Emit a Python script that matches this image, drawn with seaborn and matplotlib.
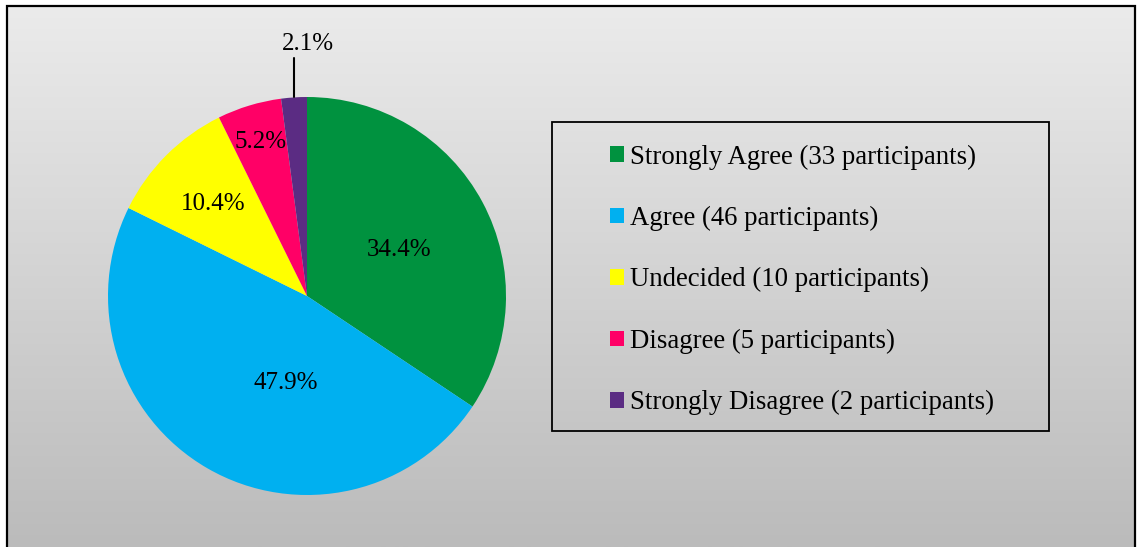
import numpy as np
import matplotlib
matplotlib.use("Agg")
import matplotlib.pyplot as plt
import seaborn as sns
from matplotlib.patches import Rectangle, Patch
from matplotlib.colors import LinearSegmentedColormap

# ---- data ----
categories = ["Strongly Agree", "Agree", "Undecided", "Disagree", "Strongly Disagree"]
participants = [33, 46, 10, 5, 2]
colors = ["#00923F", "#00B0F0", "#FFFF00", "#FF0066", "#5B2C83"]

sns.set_theme(style="white")
plt.rcParams["font.family"] = ["Liberation Serif", "DejaVu Serif"]
plt.rcParams["text.color"] = "black"

W, H = 1137, 547
fig = plt.figure(figsize=(W / 100, H / 100), dpi=100)
fig.patch.set_facecolor("white")

# background gradient inside the frame
fx0, fy_top, fx1 = 6.5, 6.0, 1135.0
bg = fig.add_axes([fx0 / W, 0, (fx1 - fx0) / W, (H - fy_top) / H])
grad = np.linspace(0, 1, 256).reshape(-1, 1)
cmap = LinearSegmentedColormap.from_list("g", ["#ebebeb", "#bbbbbb"])
bg.imshow(grad, aspect="auto", cmap=cmap, extent=[0, 1, 0, 1], origin="upper")
bg.set_axis_off()

# frame
fig.patches.append(Rectangle((fx0 / W, -0.05), (fx1 - fx0) / W, (H - fy_top) / H + 0.05,
                             transform=fig.transFigure, fill=False,
                             edgecolor="black", linewidth=1.6, zorder=5))

# pie axes
cx, cy, r = 307, 296, 199
ax = fig.add_axes([(cx - r) / W, (H - cy - r) / H, 2 * r / W, 2 * r / H])
ax.set_axis_off()
total = sum(participants)
wedges, _ = ax.pie(participants, colors=sns.color_palette(colors), startangle=90,
                   counterclock=False, radius=1.0,
                   wedgeprops=dict(linewidth=0))
ax.set_xlim(-1, 1)
ax.set_ylim(-1, 1)
ax.set_aspect("equal")

# label anchor positions (layout, data coords of the pie axes, baseline centre)
label_pos = [(0.465, 0.201), (-0.108, -0.467), (-0.470, 0.432), (-0.234, 0.744), (0.003, 1.236)]
fs = 18
for v, (lx, ly) in zip(participants, label_pos):
    ax.text(lx, ly, f"{100 * v / total:.1f}%", ha="center", va="baseline",
            fontsize=fs, color="black", clip_on=False)

# leader line for the smallest slice
w = wedges[-1]
mid = np.deg2rad((w.theta1 + w.theta2) / 2)
lx = np.cos(mid)
ax.plot([lx, lx], [np.sin(mid), 1.196], color="black", lw=1.5, clip_on=False)

# legend
lfs = 19.3
handles = [Patch(facecolor=c, edgecolor="none") for c in colors]
labels = [f"{c} ({v} participants)" for c, v in zip(categories, participants)]
leg = fig.legend(handles, labels, loc="upper left",
                 bbox_to_anchor=(597 / W, 1 - 131 / H), frameon=False,
                 fontsize=lfs, labelcolor="black", handlelength=0.52, handleheight=0.52,
                 handletextpad=0.22, labelspacing=1.355, borderpad=0)
# legend box
lx0, ly0, lx1, ly1 = 552, 122, 1048.5, 431
fig.patches.append(Rectangle((lx0 / W, 1 - ly1 / H), (lx1 - lx0) / W, (ly1 - ly0) / H,
                             transform=fig.transFigure, fill=False,
                             edgecolor="black", linewidth=1.3, zorder=5))

fig.savefig("out.png", dpi=100)
